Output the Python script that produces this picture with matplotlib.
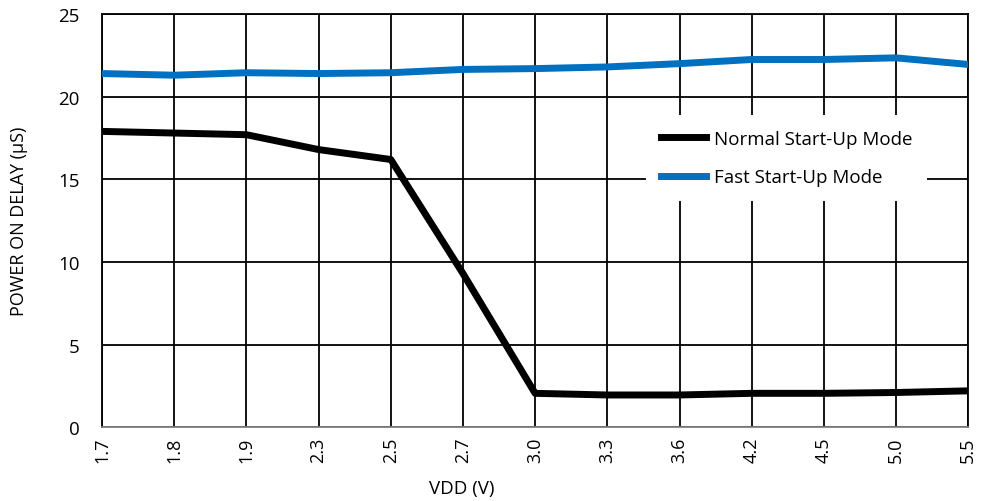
import numpy as np
import matplotlib.pyplot as plt

plt.rcParams['font.family'] = ['Open Sans', 'DejaVu Sans']

# data
vdd = ["1.7", "1.8", "1.9", "2.3", "2.5", "2.7", "3.0", "3.3", "3.6", "4.2", "4.5", "5.0", "5.5"]
normal = [17.9, 17.8, 17.7, 16.8, 16.2, 9.3, 2.05, 1.95, 1.95, 2.05, 2.05, 2.1, 2.2]
fast = [21.4, 21.3, 21.45, 21.4, 21.45, 21.65, 21.7, 21.8, 22.0, 22.25, 22.25, 22.35, 21.95]

fig = plt.figure(figsize=(9.81, 5.02), dpi=100)
ax = fig.add_axes([0.104, 0.147, 0.883, 0.823])

x = np.arange(len(vdd))
ax.plot(x, normal, color="black", lw=5, solid_joinstyle="round", label="Normal Start-Up Mode", zorder=3)
ax.plot(x, fast, color="#0070c0", lw=5, solid_joinstyle="round", label="Fast Start-Up Mode", zorder=3)

ax.set_xlim(0, len(vdd) - 1)
ax.set_ylim(0, 25)
ax.set_xticks(x)
ax.set_xticklabels(vdd, rotation=90, fontsize=13)
ax.set_yticks([0, 5, 10, 15, 20, 25])
ax.tick_params(axis="y", labelsize=13.5, length=0, pad=16)
ax.tick_params(axis="x", length=0, pad=7)
ax.grid(True, color="black", lw=1.3)

for s in ["top", "right", "left"]:
    ax.spines[s].set_linewidth(1.3)
ax.spines["bottom"].set_color("#808080")
ax.spines["bottom"].set_linewidth(1.3)

ax.set_xlabel("VDD (V)", fontsize=13.5)
ax.set_ylabel("POWER ON DELAY (\u00b5S)", fontsize=13)
ax.xaxis.set_label_coords(0.415, -0.125)
ax.yaxis.set_label_coords(-0.086, 0.5)

leg = ax.legend(loc="center", bbox_to_anchor=(0.802, 0.683), bbox_transform=fig.transFigure,
                frameon=True, fancybox=False, fontsize=13.5, handlelength=2.4,
                labelspacing=1.1, borderpad=0.8, handletextpad=0.4, borderaxespad=0)
leg.get_frame().set_facecolor("white")
leg.get_frame().set_edgecolor("none")
leg.get_frame().set_alpha(1)

fig.savefig("out.png", dpi=100)
